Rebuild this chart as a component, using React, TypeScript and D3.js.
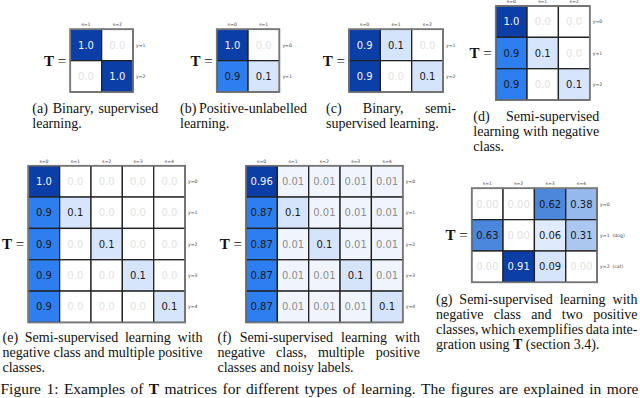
import React from 'react';
import * as d3 from 'd3';

// matrix values
const matA = [[1.0, 0.0], [0.0, 1.0]];
const matB = [[1.0, 0.0], [0.9, 0.1]];
const matC = [[0.9, 0.1, 0.0], [0.9, 0.0, 0.1]];
const matD = [[1.0, 0.0, 0.0], [0.9, 0.1, 0.0], [0.9, 0.0, 0.1]];
const matE = [
  [1.0, 0.0, 0.0, 0.0, 0.0],
  [0.9, 0.1, 0.0, 0.0, 0.0],
  [0.9, 0.0, 0.1, 0.0, 0.0],
  [0.9, 0.0, 0.0, 0.1, 0.0],
  [0.9, 0.0, 0.0, 0.0, 0.1],
];
const matF = [
  [0.96, 0.01, 0.01, 0.01, 0.01],
  [0.87, 0.1, 0.01, 0.01, 0.01],
  [0.87, 0.01, 0.1, 0.01, 0.01],
  [0.87, 0.01, 0.01, 0.1, 0.01],
  [0.87, 0.01, 0.01, 0.01, 0.1],
];
const matG = [
  [0.0, 0.0, 0.62, 0.38],
  [0.63, 0.0, 0.06, 0.31],
  [0.0, 0.91, 0.09, 0.0],
];

// tick labels
const colsA = ['s=1', 's=2'];
const rowsA = ['y=1', 'y=2'];
const colsB = ['s=0', 's=1'];
const rowsB = ['y=0', 'y=1'];
const colsC = ['s=0', 's=1', 's=2'];
const rowsC = ['y=1', 'y=2'];
const cols3 = ['s=0', 's=1', 's=2'];
const rows3 = ['y=0', 'y=1', 'y=2'];
const cols5 = ['s=0', 's=1', 's=2', 's=3', 's=4'];
const rows5 = ['y=0', 'y=1', 'y=2', 'y=3', 'y=4'];
const colsG = ['s=1', 's=2', 's=3', 's=4'];
const rowsG = ['y=0', 'y=1  (dog)', 'y=2  (cat)'];

// captions
const capA = ['(a) Binary, supervised', 'learning.'];
const capB = ['(b) Positive-unlabelled', 'learning.'];
const capC = ['(c) Binary, semi-', 'supervised learning.'];
const capD = ['(d) Semi-supervised', 'learning with negative', 'class.'];
const capE = ['(e) Semi-supervised learning with', 'negative class and multiple positive', 'classes.'];
const capF = ['(f) Semi-supervised learning with', 'negative class, multiple positive', 'classes and noisy labels.'];
const capG = [
  '(g) Semi-supervised learning with',
  'negative class and two positive',
  'classes, which exemplifies data inte-',
  'gration using T (section 3.4).',
];
const figCaption =
  'Figure 1: Examples of T matrices for different types of learning. The figures are explained in more';

const CELL = 31.35;
const SERIF = "'Liberation Serif', 'Times New Roman', serif";
const SANS = "'DejaVu Sans', sans-serif";

const panels = [
  { key: 'a', data: matA, cols: colsA, rows: rowsA, fmt: '.1f', left: 70.3, top: 29.3, cap: capA, capX: 32.3, capW: 126, capY: 112.5 },
  { key: 'b', data: matB, cols: colsB, rows: rowsB, fmt: '.1f', left: 216.7, top: 29.3, cap: capB, capX: 180, capW: 127, capY: 112.5 },
  { key: 'c', data: matC, cols: colsC, rows: rowsC, fmt: '.1f', left: 349, top: 29.3, cap: capC, capX: 326, capW: 130, capY: 112.5 },
  { key: 'd', data: matD, cols: cols3, rows: rows3, fmt: '.1f', left: 495.7, top: 6, cap: capD, capX: 473.3, capW: 126, capY: 121 },
  { key: 'e', data: matE, cols: cols5, rows: rows5, fmt: '.1f', left: 28.3, top: 165.7, cap: capE, capX: 2.5, capW: 200, capY: 342 },
  { key: 'f', data: matF, cols: cols5, rows: rows5, fmt: '~g', left: 246, top: 165.7, cap: capF, capX: 217.5, capW: 202.5, capY: 342 },
  { key: 'g', data: matG, cols: colsG, rows: rowsG, fmt: '.2f', left: 471.7, top: 188.3, cap: capG, capX: 436, capW: 201.5, capY: 304 },
];

// white -> bright blue -> navy, applied to value / matrix max
const colorRamp = d3
  .scaleLinear<string>()
  .domain([0, 0.012, 0.1, 0.35, 0.68, 0.91, 0.95, 1])
  .range(['#ffffff', '#eef4fd', '#d6e5fb', '#a9c6f0', '#4d87db', '#2c7ef0', '#1148b2', '#0b3ea6'])
  .interpolate(d3.interpolateRgb)
  .clamp(true);

const ctx = document.createElement('canvas').getContext('2d')!;
const measure = (s: string, size: number, bold = false) => {
  ctx.font = `${bold ? 'bold ' : ''}${size}px ${SERIF}`;
  return ctx.measureText(s).width;
};

// lay out a line word by word, stretching the gaps when justified
function layoutLine(line: string, x: number, width: number, size: number, justify: boolean) {
  const words = line.split(' ');
  const widths = words.map((w) => measure(w, size, w === 'T'));
  const total = d3.sum(widths);
  const gap = justify && words.length > 1 ? (width - total) / (words.length - 1) : size * 0.25;
  let cx = x;
  return words.map((w, i) => {
    const item = { word: w, x: cx, bold: w === 'T' };
    cx += widths[i] + gap;
    return item;
  });
}

const Caption: React.FC<{ lines: string[]; x: number; y: number; width: number; size?: number; lead?: number; justifyLast?: boolean }> = ({
  lines, x, y, width, size = 14, lead = 15, justifyLast = false,
}) => (
  <g fontFamily={SERIF} fontSize={size} fill="#111">
    {lines.map((line, li) =>
      layoutLine(line, x, width, size, justifyLast || li < lines.length - 1).map((w, wi) => (
        <text key={`${li}-${wi}`} x={w.x} y={y + li * lead} fontWeight={w.bold ? 'bold' : 'normal'}>
          {w.word}
        </text>
      ))
    )}
  </g>
);

const Matrix: React.FC<{ p: (typeof panels)[number] }> = ({ p }) => {
  const nRows = p.data.length;
  const nCols = p.data[0].length;
  const x = d3.scaleBand<number>().domain(d3.range(nCols)).range([p.left, p.left + nCols * CELL]);
  const y = d3.scaleBand<number>().domain(d3.range(nRows)).range([p.top, p.top + nRows * CELL]);
  const vmax = d3.max(p.data.flat()) || 1;
  const fmt = d3.format(p.fmt);
  const midY = p.top + (nRows * CELL) / 2;

  const textColor = (v: number) => {
    const t = v / vmax;
    if (v === 0) return '#e2e2e2';
    if (t >= 0.95) return '#f5f5f5';
    if (t < 0.05) return '#8e8e8e';
    return '#1a1a1a';
  };

  return (
    <g>
      <text x={p.left - 4} y={midY + 5} textAnchor="end" fontFamily={SERIF} fontSize={15} fill="#111">
        <tspan fontWeight="bold">T</tspan>
        <tspan> =</tspan>
      </text>
      {p.data.map((row, ri) =>
        row.map((v, ci) => (
          <g key={`${ri}-${ci}`}>
            <rect
              x={x(ci)}
              y={y(ri)}
              width={x.bandwidth()}
              height={y.bandwidth()}
              fill={colorRamp(v / vmax)}
              stroke="#222"
              strokeWidth={1.3}
            />
            <text
              x={x(ci)! + x.bandwidth() / 2}
              y={y(ri)! + y.bandwidth() / 2}
              dy="0.36em"
              textAnchor="middle"
              fontFamily={SANS}
              fontSize={10}
              fill={textColor(v)}
            >
              {fmt(v)}
            </text>
          </g>
        ))
      )}
      <rect
        x={p.left}
        y={p.top}
        width={nCols * CELL}
        height={nRows * CELL}
        fill="none"
        stroke="#777"
        strokeWidth={1.6}
      />
      {p.cols.map((c, ci) => (
        <text
          key={c}
          x={x(ci)! + x.bandwidth() / 2}
          y={p.top - 3}
          textAnchor="middle"
          fontFamily={SANS}
          fontSize={4.6}
          fill="#444"
        >
          {c}
        </text>
      ))}
      {p.rows.map((r, ri) => (
        <text
          key={r}
          x={p.left + nCols * CELL + 3}
          y={y(ri)! + y.bandwidth() / 2 + 1.6}
          fontFamily={SANS}
          fontSize={4.6}
          fill="#444"
          style={{ whiteSpace: 'pre' }}
        >
          {r}
        </text>
      ))}
    </g>
  );
};

const App: React.FC = () => (
  <div style={{ position: 'absolute', left: 0, top: 0, width: 640, height: 398, background: '#fff' }}>
    <svg width={640} height={398} style={{ display: 'block' }}>
      <rect width={640} height={398} fill="#fff" />
      {panels.map((p) => (
        <g key={p.key}>
          <Matrix p={p} />
          <Caption lines={p.cap} x={p.capX} y={p.capY} width={p.capW} />
        </g>
      ))}
      <Caption lines={[figCaption]} x={0.5} y={394} width={638} size={15.5} justifyLast />
    </svg>
  </div>
);

export default App;
